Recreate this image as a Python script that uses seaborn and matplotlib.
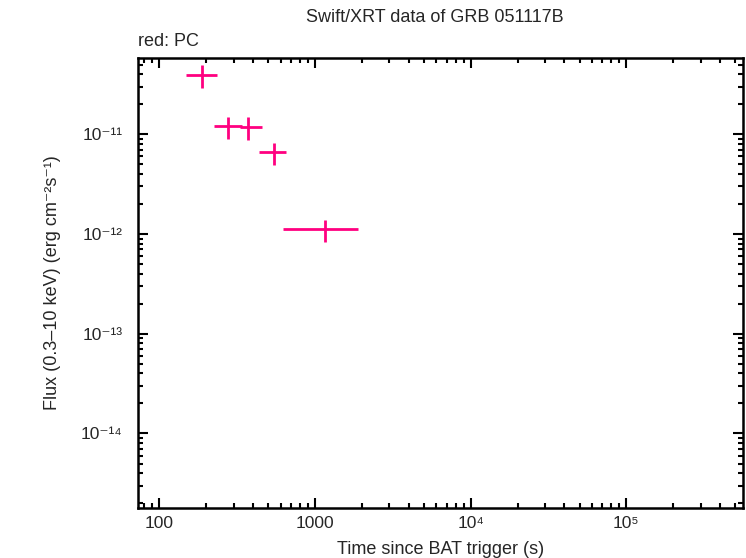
import numpy as np
import matplotlib
matplotlib.use("Agg")
import matplotlib.pyplot as plt
from matplotlib.ticker import LogLocator, FixedLocator, FixedFormatter, NullFormatter
import seaborn as sns

# light curve points (PC mode)
time = [189, 277, 373, 548, 1164]
time_lo = [148, 224, 330, 437, 622]
time_hi = [235, 338, 455, 648, 1880]
flux = [3.91e-11, 1.20e-11, 1.175e-11, 6.59e-12, 1.114e-12]
flux_lo = [2.93e-11, 9.0e-12, 8.77e-12, 4.92e-12, 8.37e-13]
flux_hi = [4.95e-11, 1.49e-11, 1.49e-11, 8.24e-12, 1.39e-12]

x_ticks = [100, 1000, 1e4, 1e5]
x_ticklabels = ["100", "1000", "10\u2074", "10\u2075"]
y_ticks = [1e-14, 1e-13, 1e-12, 1e-11]
y_ticklabels = ["10\u207b\u00b9\u2074", "10\u207b\u00b9\u00b3", "10\u207b\u00b9\u00b2", "10\u207b\u00b9\u00b9"]

sns.set_style("ticks")
plt.rcParams['font.family'] = ['Liberation Sans', 'DejaVu Sans']

fig = plt.figure(figsize=(7.46, 5.58), dpi=100)
ax = fig.add_axes([0.1846, 0.0896, 0.8114, 0.8064])

t = np.array(time)
f = np.array(flux)
xerr = [t - np.array(time_lo), np.array(time_hi) - t]
yerr = [f - np.array(flux_lo), np.array(flux_hi) - f]
color = '#ff0080'
ax.errorbar(t, f, xerr=xerr, yerr=yerr, fmt='none', ecolor=color,
            elinewidth=2.0, capsize=0)

ax.set_xscale('log')
ax.set_yscale('log')
ax.set_xlim(72.6, 5.61e5)
ax.set_ylim(1.79e-15, 5.82e-11)

ax.xaxis.set_major_locator(FixedLocator(x_ticks))
ax.xaxis.set_major_formatter(FixedFormatter(x_ticklabels))
ax.yaxis.set_major_locator(FixedLocator(y_ticks))
ax.yaxis.set_major_formatter(FixedFormatter(y_ticklabels))
ax.xaxis.set_minor_locator(LogLocator(base=10, subs=np.arange(2, 10), numticks=20))
ax.yaxis.set_minor_locator(LogLocator(base=10, subs=np.arange(2, 10), numticks=20))
ax.xaxis.set_minor_formatter(NullFormatter())
ax.yaxis.set_minor_formatter(NullFormatter())

ax.tick_params(which='both', direction='in', top=True, right=True, width=1.5, color='black')
ax.tick_params(which='major', length=7)
ax.tick_params(which='minor', length=3.5)
ax.tick_params(axis='x', which='major', labelsize=12.5, pad=6)
ax.tick_params(axis='y', which='major', labelsize=12.5, pad=11)

for sp in ax.spines.values():
    sp.set_linewidth(1.8)
    sp.set_color('black')

ax.set_xlabel('Time since BAT trigger (s)', fontsize=13, labelpad=7)
ax.set_ylabel('Flux (0.3\u201310 keV) (erg cm\u207b\u00b2s\u207b\u00b9)', fontsize=13, labelpad=14)

fig.text(0.583, 0.968, 'Swift/XRT data of GRB 051117B', ha='center', va='center', fontsize=13)
fig.text(0.1846, 0.925, 'red: PC', ha='left', va='center', fontsize=13)

fig.savefig('out.png', dpi=100)
